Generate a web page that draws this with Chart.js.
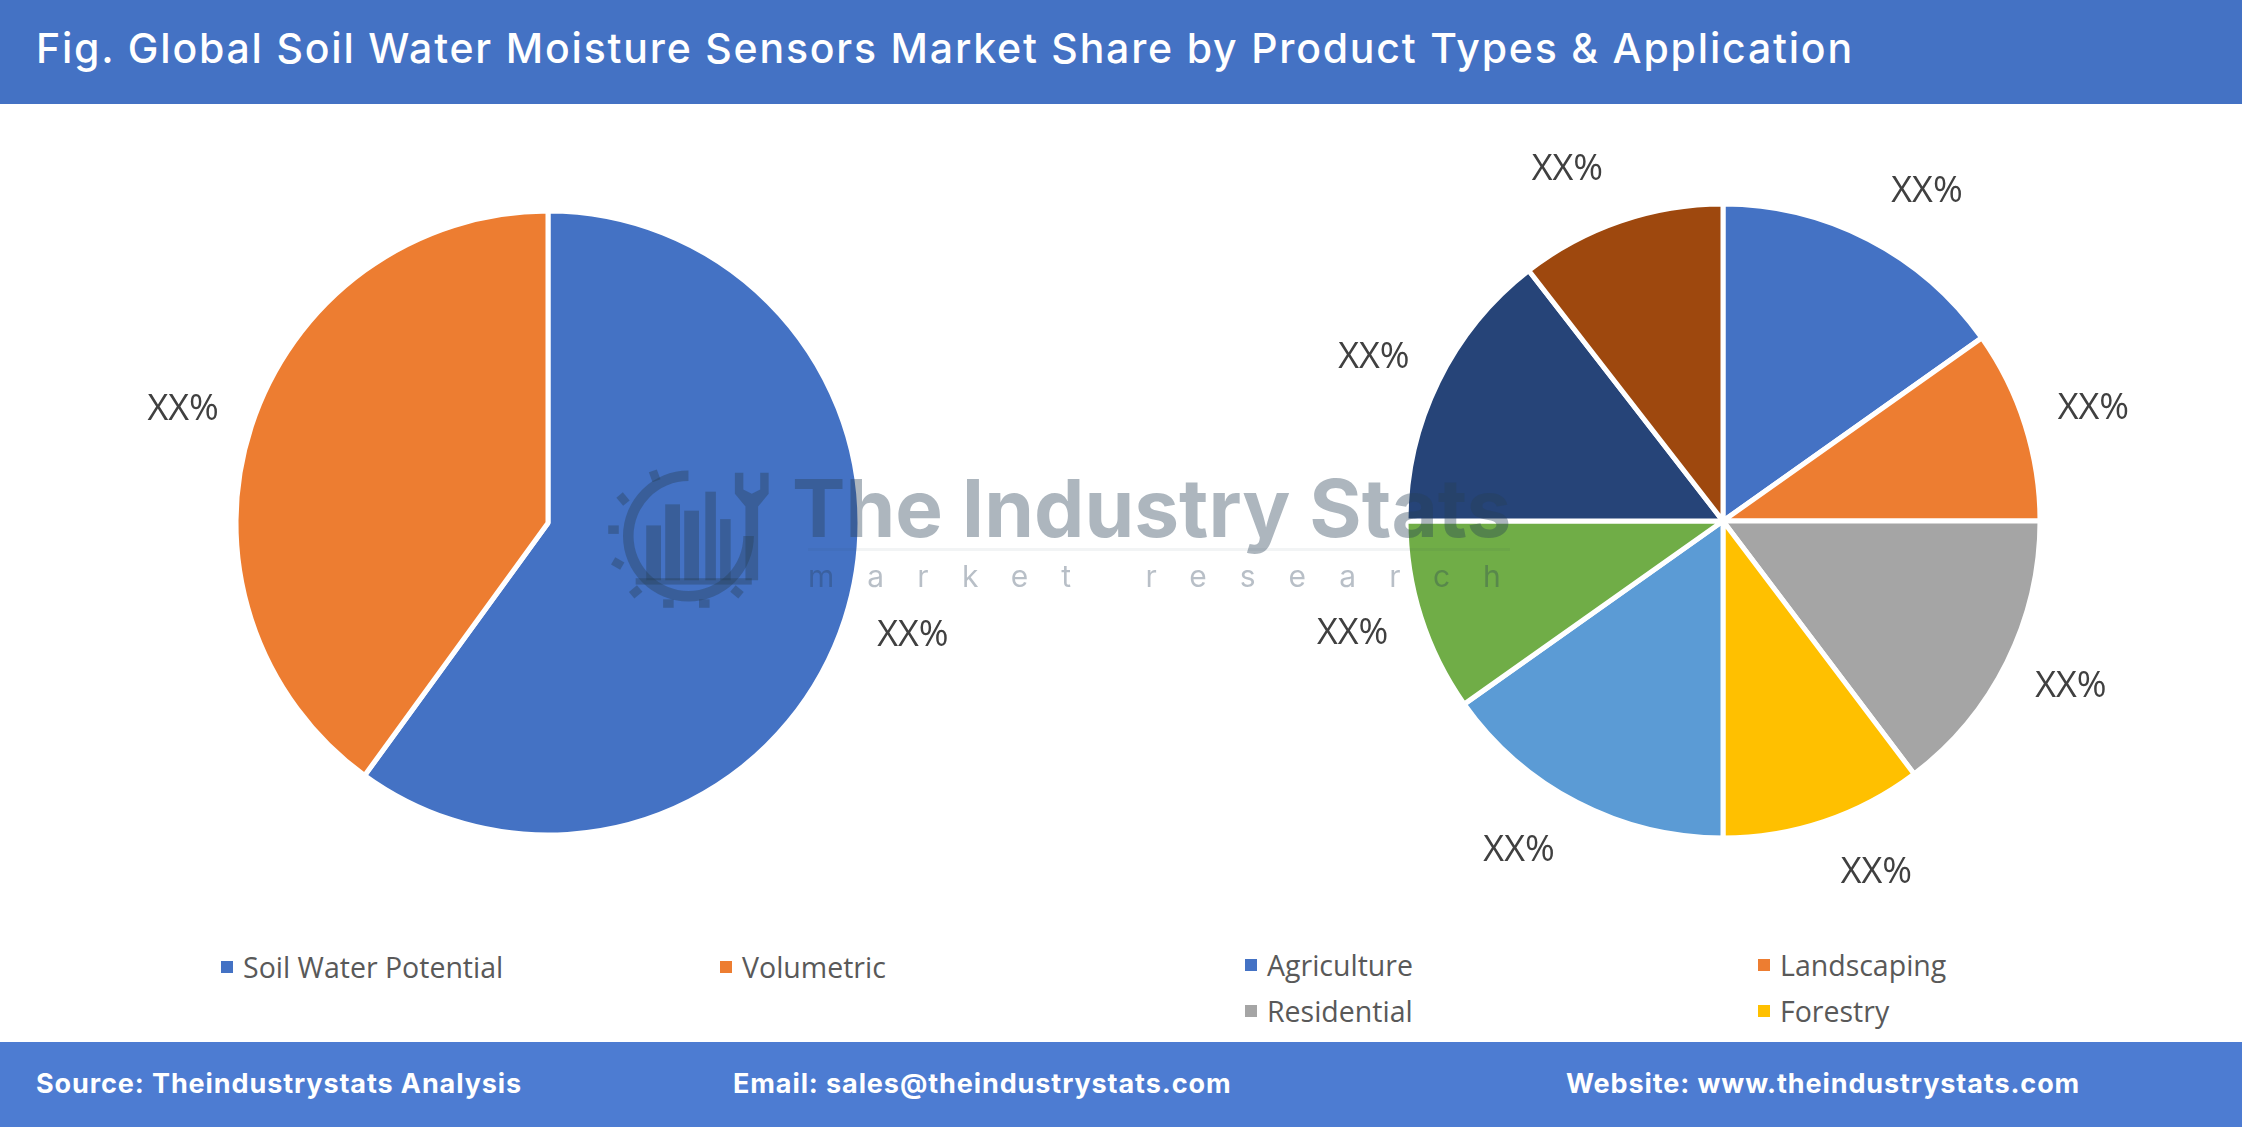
<!DOCTYPE html>
<html lang="en">
<head>
<meta charset="utf-8">
<title>Global Soil Water Moisture Sensors Market Share</title>
<script src="https://cdn.jsdelivr.net/npm/chart.js@4.4.1/dist/chart.umd.min.js"></script>
<style>
  html, body { margin: 0; padding: 0; background: #fff; }
  body { width: 2242px; height: 1127px; position: relative; overflow: hidden; font-family: 'Open Sans', sans-serif; }
  .header { position: absolute; left: 0; top: 0; width: 2242px; height: 104px; background: #4472C4; }
  .header h1 { position: absolute; left: 36px; top: 23px; margin: 0; color: #fff; font: 500 41px 'Inter', sans-serif; letter-spacing: 1.8px; line-height: 50px; white-space: nowrap; }
  .footer { position: absolute; left: 0; top: 1042px; width: 2242px; height: 85px; background: #4D7CD2; color: #fff; font: 700 27px 'Inter', sans-serif; letter-spacing: 0.9px; }
  .footer span { position: absolute; top: 24px; line-height: 36px; white-space: nowrap; }
  canvas { position: absolute; }
  #productChart { left: 48px; top: 123px; }
  #applicationChart { left: 1223px; top: 121px; }
  .legend-item { position: absolute; font: 28.5px 'Open Sans', sans-serif; color: #595959; line-height: 34px; white-space: nowrap; }
  .legend-item i { position: absolute; left: -22px; top: 11px; width: 12px; height: 12px; }
  .watermark { position: absolute; left: 0; top: 0; width: 2242px; height: 1127px; pointer-events: none; z-index: 5; }
  .wm-title { position: absolute; left: 792px; top: 458px; font: 700 80px 'Inter', sans-serif; color: rgba(40, 62, 85, 0.38); white-space: nowrap; line-height: 100px; }
  .wm-line { position: absolute; left: 808px; top: 548px; width: 702px; height: 3px; background: rgba(40, 62, 85, 0.06); }
  .wm-sub { position: absolute; left: 808px; top: 556px; font: 400 30px 'Inter', sans-serif; color: rgba(40, 62, 85, 0.33); letter-spacing: 33px; white-space: nowrap; line-height: 40px; }
  .wm-logo { position: absolute; left: 604px; top: 462px; }
</style>
</head>
<body>
<div class="header"><h1>Fig. Global Soil Water Moisture Sensors Market Share by Product Types &amp; Application</h1></div>

<canvas id="productChart" width="1000" height="800"></canvas>
<canvas id="applicationChart" width="1000" height="800"></canvas>

<div id="productLegend"></div>
<div id="applicationLegend"></div>

<div class="watermark">
  <svg class="wm-logo" width="190" height="148" viewBox="0 0 180 140">
    <g fill="rgba(40,62,85,0.38)">
      <path d="M80 8 A62 62 0 1 0 142 70 L132 70 A52 52 0 1 1 80 18 Z"/>
      <rect x="40" y="60" width="14" height="52"/>
      <rect x="58" y="40" width="14" height="72"/>
      <rect x="76" y="46" width="14" height="66"/>
      <rect x="96" y="28" width="10" height="84"/>
      <rect x="110" y="54" width="10" height="58"/>
      <path d="M124 10 L132 10 L132 26 L140 30 L148 26 L148 10 L156 10 L156 30 L146 42 L146 112 L134 112 L134 42 L124 30 Z"/>
      <rect x="30" y="110" width="110" height="6"/>
    </g>
    <g fill="rgba(40,62,85,0.38)">
      <rect x="14" y="30" width="8" height="10" transform="rotate(-40 18 35)"/>
      <rect x="4" y="60" width="10" height="8"/>
      <rect x="8" y="92" width="10" height="8" transform="rotate(30 13 96)"/>
      <rect x="26" y="118" width="8" height="10" transform="rotate(50 30 123)"/>
      <rect x="56" y="130" width="10" height="8"/>
      <rect x="90" y="130" width="10" height="8"/>
      <rect x="122" y="118" width="8" height="10" transform="rotate(-50 126 123)"/>
      <rect x="44" y="8" width="8" height="10" transform="rotate(-20 48 13)"/>
    </g>
  </svg>
  <div class="wm-title">The Industry Stats</div>
  <div class="wm-line"></div>
  <div class="wm-sub">market research</div>
</div>

<div class="footer">
  <span style="left:36px">Source: Theindustrystats Analysis</span>
  <span style="left:733px">Email: sales@theindustrystats.com</span>
  <span style="left:1566px">Website: www.theindustrystats.com</span>
</div>

<script>
// データ
const productTypes = ['Soil Water Potential', 'Volumetric'];
const productShares = [60, 40];
const productColors = ['#4472C4', '#ED7D31'];

const applications = ['Agriculture', 'Landscaping', 'Residential', 'Forestry', 'Greenhouse', 'Sports Turf', 'Research', 'Others'];
const applicationShares = [15.2, 9.8, 14.7, 10.3, 15.2, 9.8, 14.5, 10.5];
const applicationColors = ['#4472C4', '#ED7D31', '#A5A5A5', '#FFC000', '#5B9BD5', '#70AD47', '#264478', '#9E480E'];

const valueLabel = 'XX%';
const shownApplicationLegend = 4; // 凡例は最初の4項目のみ表示

// スライスの外側に XX% を描く（ラベル枠が円から一定距離になるよう配置）
const outsideLabels = {
    id: 'outsideLabels',
    afterDatasetsDraw(chart) {
        const ctx = chart.ctx;
        const meta = chart.getDatasetMeta(0);
        ctx.save();
        ctx.font = '36px "Open Sans"';
        ctx.fillStyle = '#404040';
        ctx.textAlign = 'center';
        ctx.textBaseline = 'middle';
        const halfW = ctx.measureText(valueLabel).width / 2;
        const halfH = 18;
        const gap = 36;
        meta.data.forEach(arc => {
            const p = arc.getProps(['x', 'y', 'startAngle', 'endAngle', 'outerRadius'], true);
            const mid = (p.startAngle + p.endAngle) / 2;
            const cx = Math.cos(mid), cy = Math.sin(mid);
            // 上下付近のラベルは左右に少し逃がす
            const spread = Math.sign(cx) * 75 * Math.max(0, Math.abs(cy) - 0.55);
            const tx = p.x + cx * (p.outerRadius + gap) + cx * halfW + spread;
            const ty = p.y + cy * (p.outerRadius + gap) + cy * halfH;
            ctx.fillText(valueLabel, tx, ty);
        });
        ctx.restore();
    }
};

function makePie(canvasId, labels, values, colors, radius) {
    return new Chart(document.getElementById(canvasId), {
        type: 'pie',
        data: {
            labels: labels,
            datasets: [{
                data: values,
                backgroundColor: colors,
                borderColor: '#ffffff',
                borderWidth: 5,
                hoverOffset: 0,
                radius: radius
            }]
        },
        options: {
            responsive: false,
            animation: false,
            layout: { padding: 0 },
            plugins: {
                legend: { display: false },
                tooltip: { enabled: false }
            }
        },
        plugins: [outsideLabels]
    });
}

// 凡例（HTML）
function buildLegend(containerId, labels, colors, positions) {
    const box = document.getElementById(containerId);
    positions.forEach((pos, i) => {
        const item = document.createElement('div');
        item.className = 'legend-item';
        item.style.left = pos[0] + 'px';
        item.style.top = pos[1] + 'px';
        const mark = document.createElement('i');
        mark.style.background = colors[i];
        item.appendChild(mark);
        item.appendChild(document.createTextNode(labels[i]));
        box.appendChild(item);
    });
}

makePie('productChart', productTypes, productShares, productColors, 312);
makePie('applicationChart', applications, applicationShares, applicationColors, 317);

buildLegend('productLegend', productTypes, productColors, [[243, 950], [742, 950]]);
buildLegend('applicationLegend', applications.slice(0, shownApplicationLegend), applicationColors,
    [[1267, 948], [1780, 948], [1267, 994], [1780, 994]]);
</script>
</body>
</html>
